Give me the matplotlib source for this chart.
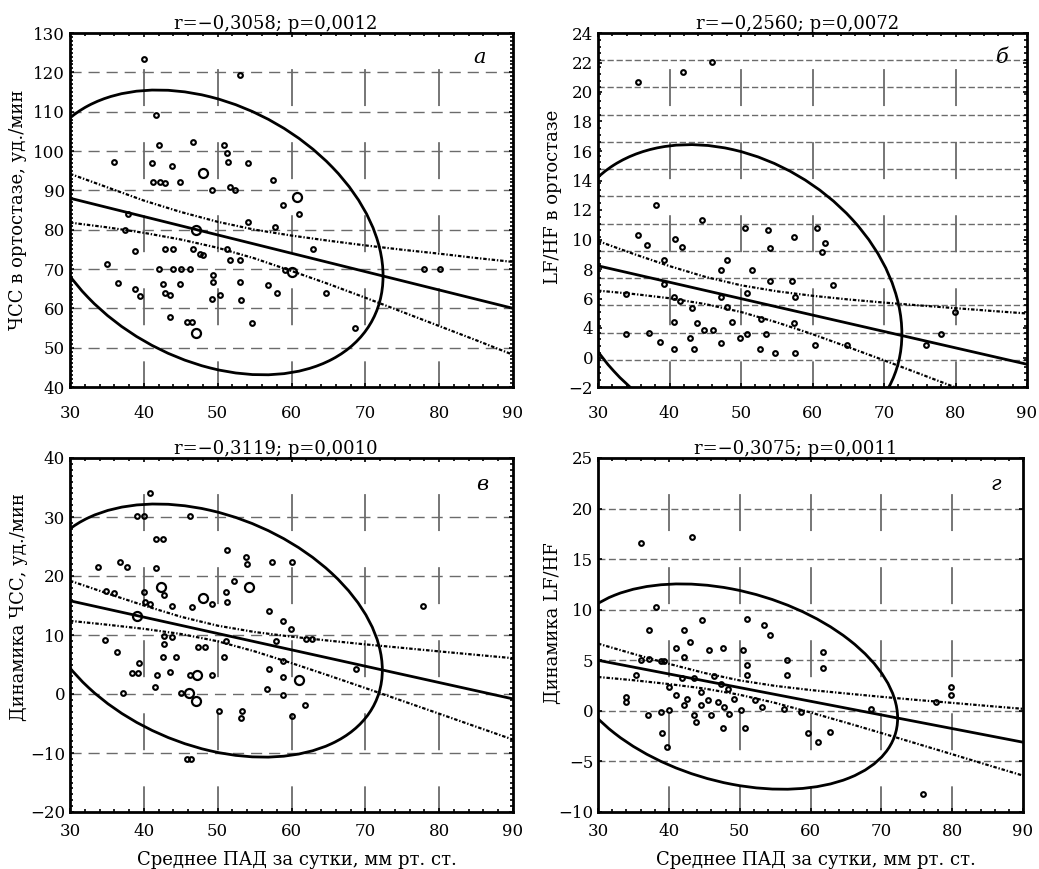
import matplotlib
matplotlib.use('Agg')
import matplotlib.pyplot as plt
import numpy as np
from matplotlib.patches import Circle
from matplotlib.transforms import Affine2D
from matplotlib.ticker import MultipleLocator

plt.rcParams['font.family'] = ['DejaVu Serif']
plt.rcParams['lines.scale_dashes'] = False

x_label = 'Среднее ПАД за сутки, мм рт. ст.'
x_ticks = [30, 40, 50, 60, 70, 80, 90]
v_grid = [40, 50, 60, 70, 80]
line_x = [30, 90]
band_x = [30, 35, 40, 45, 50, 55, 60, 65, 70, 75, 80, 85, 90]

# --- а: ЧСС в ортостазе
a_title = 'r=−0,3058; p=0,0012'
a_ylabel = 'ЧСС в ортостазе, уд./мин'
a_x = [40.0, 53.0, 41.7, 42.0, 46.6, 50.8, 51.3, 51.4, 35.9, 41.1, 43.8, 54.1, 41.3,
       42.2, 42.9, 44.9, 57.5, 49.2, 51.7, 52.3, 58.9, 61.0, 37.9, 54.1, 57.7, 37.4,
       38.8, 42.9, 44.0, 46.7, 47.6, 48.0, 51.2, 62.9, 51.7, 53.0, 35.0, 42.0, 44.0,
       45.1, 46.2, 49.4, 59.1, 78.0, 80.1, 36.5, 42.6, 44.9, 53.0, 49.4, 56.8, 38.8,
       42.9, 43.5, 39.5, 49.2, 50.3, 53.2, 58.0, 64.7, 43.5, 45.8, 46.5, 54.6, 68.6]
a_y = [123.4, 119.4, 109.2, 101.5, 102.4, 101.5, 99.5, 97.2, 97.1, 96.9, 96.3, 96.9, 92.0,
       92.0, 91.8, 92.0, 92.6, 90.1, 90.9, 90.1, 86.3, 84.1, 84.1, 82.0, 80.7, 79.9,
       74.6, 75.2, 75.2, 75.2, 73.9, 73.5, 75.2, 75.2, 72.3, 72.3, 71.2, 70.1, 70.1,
       70.1, 70.1, 68.4, 69.7, 70.1, 70.1, 66.5, 66.3, 66.3, 66.7, 66.7, 65.9, 65.0,
       63.8, 63.3, 63.2, 62.5, 63.3, 62.1, 63.8, 63.8, 57.8, 56.6, 56.6, 56.3, 54.9]
a_big_x = [48.0, 60.8, 47.0, 60.0, 47.0]
a_big_y = [94.3, 88.2, 79.9, 69.3, 53.8]
a_line = [88.0, 60.0]
a_upper = [94.2, 90.8, 87.4, 84.5, 82.0, 80.0, 78.5, 77.2, 76.0, 74.9, 73.9, 72.8, 71.8]
a_lower = [81.8, 80.6, 79.2, 77.5, 75.4, 72.7, 69.5, 66.2, 62.7, 59.1, 55.5, 51.9, 48.2]
a_ellipse = [49.0, 79.3, 23.4, 36.2, -0.3058]   # центр x, центр y, полуоси x, y, r
a_yticks = [40, 50, 60, 70, 80, 90, 100, 110, 120, 130]

# --- б: LF/HF в ортостазе
b_title = 'r=−0,2560; p=0,0072'
b_ylabel = 'LF/HF в ортостазе'
b_x = [45.9, 41.9, 35.6, 38.1, 44.6, 50.6, 53.8, 60.6, 35.6, 40.8, 57.4, 36.8, 41.8,
       54.0, 61.7, 61.3, 48.1, 39.3, 47.2, 51.6, 54.0, 57.2, 62.9, 39.2, 33.9, 40.6,
       47.2, 50.9, 43.2, 41.5, 57.5, 40.6, 43.9, 44.8, 46.1, 48.8, 52.8, 57.4, 33.9,
       37.1, 38.7, 40.6, 42.9, 47.2, 49.8, 50.9, 43.4, 52.6, 54.7, 60.4, 57.5, 64.8,
       75.9, 78.0, 79.9, 48.1, 53.5]
b_y = [21.9, 21.1, 20.4, 11.4, 10.3, 9.7, 9.5, 9.7, 9.2, 8.9, 9.0, 8.4, 8.3,
       8.2, 8.6, 7.9, 7.3, 7.3, 6.6, 6.6, 5.8, 5.8, 5.5, 5.6, 4.8, 4.6,
       4.6, 4.9, 3.8, 4.3, 4.6, 2.8, 2.7, 2.2, 2.2, 2.8, 3.0, 2.7, 1.9,
       2.0, 1.3, 0.8, 1.6, 1.2, 1.6, 1.9, 0.8, 0.8, 0.5, 1.1, 0.5, 1.1,
       1.1, 1.9, 3.5, 3.9, 1.9]
b_big_x = []
b_big_y = []
b_line = [6.9, -0.33]
b_upper = [8.72, 7.77, 6.88, 6.09, 5.47, 5.03, 4.70, 4.43, 4.20, 3.99, 3.79, 3.59, 3.40]
b_lower = [5.08, 4.83, 4.52, 4.09, 3.51, 2.75, 1.88, 0.93, -0.04, -1.03, -2.03, -3.05, -4.06]
b_ellipse = [48.9, 4.73, 23.6, 11.07, -0.2560]
b_ytick_labels = ['−2', '0', '4', '6', '8', '10', '12', '14', '16', '18', '20', '22', '24']
b_hgrid = [0, 2, 4, 6, 8, 10, 12, 14, 16, 18, 20, 22]

# --- в: Динамика ЧСС
c_title = 'r=−0,3119; p=0,0010'
c_ylabel = 'Динамика ЧСС, уд./мин'
c_x = [40.9, 39.1, 40.0, 46.3, 41.7, 42.6, 51.3, 53.8, 54.0, 57.4, 60.0, 33.8, 36.8,
       37.7, 41.7, 52.2, 40.0, 34.9, 35.9, 51.1, 51.3, 42.7, 46.5, 40.1, 40.9, 43.8,
       49.2, 56.9, 58.8, 59.9, 42.7, 43.8, 34.8, 42.7, 47.4, 48.3, 51.1, 57.9, 61.9,
       62.8, 36.3, 44.3, 42.6, 50.8, 39.3, 58.8, 68.7, 38.4, 39.2, 43.5, 46.3, 41.8,
       49.2, 57.0, 58.8, 41.5, 56.7, 37.2, 45.0, 58.8, 61.8, 50.2, 53.3, 53.1, 60.1,
       45.9, 46.4, 77.8]
c_y = [34.0, 30.2, 30.2, 30.2, 26.2, 26.2, 24.4, 23.2, 22.1, 22.4, 22.4, 21.5, 22.4,
       21.5, 21.4, 19.2, 17.3, 17.4, 17.1, 17.3, 15.6, 16.7, 14.7, 15.6, 15.3, 15.0,
       15.3, 14.1, 12.4, 11.1, 9.9, 9.6, 9.2, 8.4, 8.0, 8.0, 9.0, 9.0, 9.3,
       9.3, 7.1, 6.2, 6.2, 6.2, 5.3, 5.6, 4.2, 3.6, 3.6, 3.8, 3.3, 3.2,
       3.2, 4.2, 2.8, 1.2, 0.8, 0.1, 0.1, -0.1, -1.8, -2.9, -2.9, -4.1, -3.7,
       -11.1, -11.1, 15.0]
c_big_x = [42.3, 54.2, 48.0, 39.1, 47.2, 61.0, 46.1, 47.0]
c_big_y = [18.1, 18.1, 16.2, 13.3, 3.3, 2.4, 0.1, -1.2]
c_line = [15.8, -0.83]
c_upper = [19.2, 17.07, 15.01, 13.10, 11.58, 10.51, 9.72, 9.05, 8.41, 7.82, 7.22, 6.64, 6.07]
c_lower = [12.4, 11.75, 11.05, 10.18, 8.94, 7.23, 5.24, 3.15, 1.01, -1.16, -3.34, -5.54, -7.73]
c_ellipse = [49.0, 10.75, 23.3, 21.45, -0.3119]
c_yticks = [-20, -10, 0, 10, 20, 30, 40]

# --- г: Динамика LF/HF
d_title = 'r=−0,3075; p=0,0011'
d_ylabel = 'Динамика LF/HF'
d_x = [36.0, 43.2, 38.2, 44.7, 51.1, 53.5, 37.2, 42.2, 54.3, 43.0, 41.0, 45.7, 47.7,
       50.4, 61.7, 42.2, 36.0, 37.2, 38.9, 39.3, 56.7, 51.1, 61.8, 35.3, 56.7, 51.1,
       41.9, 43.6, 46.4, 47.3, 40.0, 41.0, 44.5, 48.3, 79.9, 79.8, 33.9, 33.9, 42.6,
       45.5, 46.9, 49.2, 52.1, 53.2, 47.8, 50.2, 44.5, 42.2, 77.7, 68.5, 37.0, 38.9,
       40.0, 43.6, 45.9, 48.5, 58.7, 56.3, 43.8, 47.6, 50.7, 39.1, 59.6, 62.8, 61.0,
       39.8, 75.9]
d_y = [16.6, 17.2, 10.3, 9.0, 9.1, 8.5, 8.0, 8.0, 7.5, 6.8, 6.2, 6.0, 6.2,
       6.0, 5.8, 5.3, 5.0, 5.1, 4.9, 4.9, 5.0, 4.5, 4.2, 3.5, 3.5, 3.5,
       3.2, 3.2, 3.4, 2.7, 2.4, 1.6, 1.9, 2.2, 2.4, 1.6, 1.4, 0.9, 1.2,
       1.1, 0.9, 1.2, 1.1, 0.4, 0.4, 0.1, 0.6, 0.6, 0.9, 0.2, -0.4, -0.1,
       0.1, -0.4, -0.4, -0.3, -0.1, 0.2, -1.1, -1.7, -1.7, -2.2, -2.2, -2.1, -3.1,
       -3.6, -8.2]
d_big_x = []
d_big_y = []
d_line = [5.0, -3.1]
d_upper = [6.65, 5.63, 4.65, 3.75, 3.01, 2.47, 2.06, 1.72, 1.39, 1.08, 0.79, 0.49, 0.20]
d_lower = [3.35, 3.03, 2.65, 2.21, 1.59, 0.79, -0.16, -1.16, -2.19, -3.24, -4.29, -5.35, -6.40]
d_ellipse = [48.9, 2.4, 23.4, 10.15, -0.3075]
d_yticks = [-10, -5, 0, 5, 10, 15, 20, 25]

fig = plt.figure(figsize=(10.39, 8.69), dpi=100)
W, H = 1039, 869
boxes = [(70, 33, 513, 387), (598, 33, 1027, 387),
         (70, 458, 513, 812), (598, 458, 1023, 812)]
axes = [fig.add_axes([l / W, 1 - b / H, (r - l) / W, (b - t) / H]) for (l, t, r, b) in boxes]

panels = [
    dict(px=a_x, py=a_y, bx=a_big_x, by=a_big_y, line=a_line, up=a_upper, lo=a_lower,
         ell=a_ellipse, title=a_title, ylabel=a_ylabel, letter='а',
         yticks=a_yticks, ylabels=None, hgrid=a_yticks[1:-1], hdash=(8, 5), yminor=1,
         xpad=13, ylab=(-0.097, 0.5), let=(0.925, 0.932)),
    dict(px=b_x, py=b_y, bx=b_big_x, by=b_big_y, line=b_line, up=b_upper, lo=b_lower,
         ell=b_ellipse, title=b_title, ylabel=b_ylabel, letter='б',
         yticks=list(np.linspace(-2, 24, 13)), ylabels=b_ytick_labels, hgrid=b_hgrid,
         hdash=(4.5, 2), yminor=0.5, xpad=13, ylab=(-0.084, 0.537), let=(0.942, 0.932)),
    dict(px=c_x, py=c_y, bx=c_big_x, by=c_big_y, line=c_line, up=c_upper, lo=c_lower,
         ell=c_ellipse, title=c_title, ylabel=c_ylabel, letter='в',
         yticks=c_yticks, ylabels=None, hgrid=c_yticks[1:-1], hdash=(8, 5), yminor=1,
         xpad=8, ylab=(-0.095, 0.58), let=(0.93, 0.924)),
    dict(px=d_x, py=d_y, bx=d_big_x, by=d_big_y, line=d_line, up=d_upper, lo=d_lower,
         ell=d_ellipse, title=d_title, ylabel=d_ylabel, letter='г',
         yticks=d_yticks, ylabels=None, hgrid=d_yticks[1:-1], hdash=(5, 2.5), yminor=None,
         xpad=8, ylab=(-0.084, 0.534), let=(0.937, 0.924)),
]

grey = '0.42'
for i, (ax, p) in enumerate(zip(axes, panels)):
    ylo, yhi = p['yticks'][0], p['yticks'][-1]
    ax.set_xlim(30, 90)
    ax.set_ylim(ylo, yhi)

    # сетка
    for g in p['hgrid']:
        ax.axhline(g, color=grey, lw=1.0, ls=(0, p['hdash']), zorder=1)
    for g in v_grid:
        ax.plot([g, g], [yhi, ylo], color=grey, lw=1.3, ls=(26.6, (26.6, 26)), zorder=1)

    # эллипс
    mx, my, kx, ky, rho = p['ell']
    tr = Affine2D.from_values(kx, ky * rho, 0, ky * np.sqrt(1 - rho ** 2), mx, my) + ax.transData
    ax.add_patch(Circle((0, 0), 1, transform=tr, fill=False, lw=2.0, ec='k', zorder=3))

    # регрессия и доверительные границы
    ax.plot(line_x, p['line'], color='k', lw=2.0, zorder=3)
    ax.plot(band_x, p['up'], color='k', lw=1.6, ls=(0, (2.5, 1.3, 1, 1.3)), zorder=3)
    ax.plot(band_x, p['lo'], color='k', lw=1.6, ls=(0, (2.5, 1.3, 1, 1.3)), zorder=3)

    # точки
    ax.plot(p['px'], p['py'], ls='none', marker='o', ms=3.4, mfc='none', mec='k',
            mew=1.5, zorder=4)
    if p['bx']:
        ax.plot(p['bx'], p['by'], ls='none', marker='o', ms=6.5, mfc='none', mec='k',
                mew=1.6, zorder=4)

    ax.set_xticks(x_ticks)
    ax.set_yticks(p['yticks'])
    if p['ylabels']:
        ax.set_yticklabels(p['ylabels'])
    ax.xaxis.set_minor_locator(MultipleLocator(2))
    if p['yminor']:
        ax.yaxis.set_minor_locator(MultipleLocator(p['yminor']))
    ax.tick_params(which='both', direction='in', top=True, right=True, width=1.2)
    ax.tick_params(which='major', length=3, labelsize=12)
    ax.tick_params(which='minor', length=2.5)
    ax.tick_params(axis='x', which='major', pad=p['xpad'])
    ax.tick_params(axis='y', which='major', pad=3.5)
    for s in ax.spines.values():
        s.set_linewidth(2)

    ax.set_title(p['title'], fontsize=13, pad=3, x=0.465)
    ax.set_ylabel(p['ylabel'], fontsize=13)
    ax.yaxis.set_label_coords(*p['ylab'])
    if i >= 2:
        ax.set_xlabel(x_label, fontsize=13)
        ax.xaxis.set_label_coords(0.513, -0.11)
    ax.text(p['let'][0], p['let'][1], p['letter'], transform=ax.transAxes,
            fontsize=15, style='italic', ha='center', va='center')

fig.savefig('out.png', dpi=100)
